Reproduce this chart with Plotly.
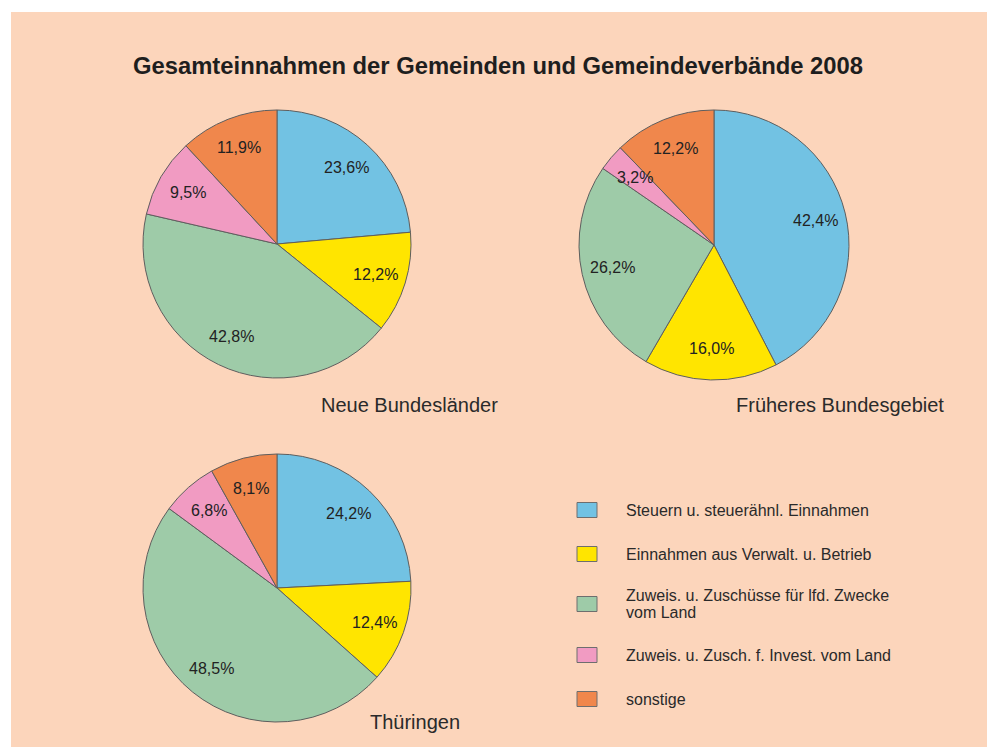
import math
import plotly.graph_objects as go

categories = [
    "Steuern u. steuerähnl. Einnahmen",
    "Einnahmen aus Verwalt. u. Betrieb",
    "Zuweis. u. Zuschüsse für lfd. Zwecke<br>vom Land",
    "Zuweis. u. Zusch. f. Invest. vom Land",
    "sonstige",
]
colors = ["#72C2E3", "#FFE500", "#9ECBA8", "#F19BC2", "#F0874C"]

regions = ["Neue Bundesländer", "Früheres Bundesgebiet", "Thüringen"]
neue_bl = [23.6, 12.2, 42.8, 9.5, 11.9]
frueheres_bg = [42.4, 16.0, 26.2, 3.2, 12.2]
thueringen = [24.2, 12.4, 48.5, 6.8, 8.1]
values = [neue_bl, frueheres_bg, thueringen]

W, H = 995, 747
OFF = 8  # page body margin offset
BG = "#FCD5BB"
FONT = "Liberation Sans, Arial, sans-serif"


def px(x):
    return (x - OFF) / W


def py(y):
    return 1 - (y - OFF) / H


# pie placement (center x, center y from top, radius) in screen pixels
placements = [(277, 244, 134), (714, 245, 135), (277, 588, 134)]
sub_pos = [(409, 405), (840, 405), (415, 722)]
LABEL_R = 0.77

fig = go.Figure()
annotations = []
for vals, (cx, cy, r) in zip(values, placements):
    labels_txt = [f"{v:.1f}%".replace(".", ",") for v in vals]
    fig.add_trace(go.Pie(
        labels=categories,
        values=vals,
        sort=False,
        direction="clockwise",
        rotation=0,
        marker=dict(colors=colors, line=dict(color="#5E5E5E", width=1)),
        text=labels_txt,
        textinfo="none",
        showlegend=False,
        hoverinfo="label+text",
        domain=dict(x=[px(cx - r), px(cx + r)],
                    y=[py(cy + r), py(cy - r)]),
    ))
    # value labels along each slice's bisector
    total = sum(vals)
    cum = 0.0
    for v, t in zip(vals, labels_txt):
        mid = (cum + v / 2) / total * 2 * math.pi
        cum += v
        lx = cx + LABEL_R * r * math.sin(mid)
        ly = cy - LABEL_R * r * math.cos(mid)
        annotations.append(dict(
            text=t, x=px(lx), y=py(ly), xref="paper", yref="paper",
            xanchor="center", yanchor="middle", showarrow=False,
            font=dict(family=FONT, size=16, color="#222222"),
        ))

annotations.append(dict(
    text="<b>Gesamteinnahmen der Gemeinden und Gemeindeverbände 2008</b>",
    x=px(498), y=py(66), xref="paper", yref="paper",
    xanchor="center", yanchor="middle", showarrow=False,
    font=dict(family=FONT, size=23.8, color="#1E1E1E"),
))
for name, (sx, sy) in zip(regions, sub_pos):
    annotations.append(dict(
        text=name, x=px(sx), y=py(sy), xref="paper", yref="paper",
        xanchor="center", yanchor="middle", showarrow=False,
        font=dict(family=FONT, size=20, color="#2A2A2A"),
    ))

shapes = [dict(type="rect", xref="paper", yref="paper",
               x0=px(11), x1=px(992), y0=0, y1=py(12),
               fillcolor=BG, line=dict(width=0), layer="below")]

legend_y = [510, 554, 604, 655, 699]
for cat, col, ly in zip(categories, colors, legend_y):
    shapes.append(dict(type="rect", xref="paper", yref="paper",
                       x0=px(577), x1=px(597),
                       y0=py(ly + 7.5), y1=py(ly - 7.5),
                       fillcolor=col, line=dict(color="#6E6E6E", width=1)))
    lines = cat.split("<br>")
    n = len(lines)
    for i, line in enumerate(lines):
        yy = ly + (i - (n - 1) / 2) * 17
        annotations.append(dict(
            text=line, x=px(624), y=py(yy), xref="paper", yref="paper",
            xanchor="left", yanchor="middle", align="left", showarrow=False,
            font=dict(family=FONT, size=16, color="#2A2A2A"),
        ))

fig.update_layout(
    width=W, height=H,
    margin=dict(l=0, r=0, t=0, b=0),
    paper_bgcolor="white",
    plot_bgcolor="white",
    annotations=annotations,
    shapes=shapes,
    showlegend=False,
)

fig.write_html("out.html")
